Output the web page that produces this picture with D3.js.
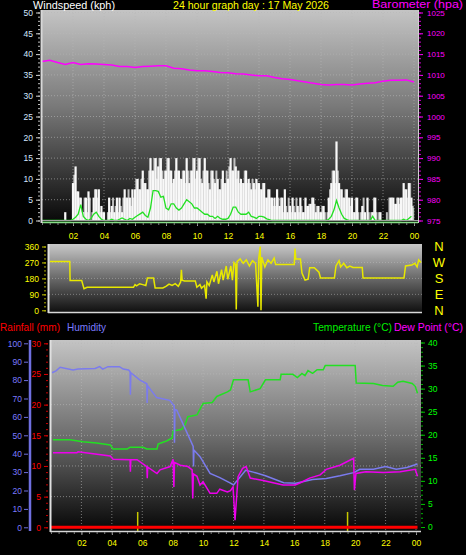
<!DOCTYPE html>
<html><head><meta charset="utf-8">
<script src="https://cdn.jsdelivr.net/npm/d3@7/dist/d3.min.js"></script>
<style>
body{margin:0;background:#000;}
svg{display:block;font-family:"Liberation Sans",Arial,sans-serif;}
</style></head>
<body><svg id="c" width="466" height="555"></svg>
<script>
// ---------------- DATA ----------------
const hourTicks = [2,4,6,8,10,12,14,16,18,20,22,24];
const hourLabels = ["02","04","06","08","10","12","14","16","18","20","22","00"];
const windTicks = [0,5,10,15,20,25,30,35,40,45,50];
const baroTicks = [975,980,985,990,995,1000,1005,1010,1015,1020,1025];
const dirTicks = [0,90,180,270,360];
const compass = ["N","E","S","W","N"];
const humTicks = [0,10,20,30,40,50,60,70,80,90,100];
const rainTicks = [0,5,10,15,20,25,30];
const tempTicks = [0,5,10,15,20,25,30,35,40];

// wind gusts (kph), every 10 minutes from 00:00
const gust = [
 0,0,0,0,0,0,  0,0,0,2,0,0,  9,13,7,5.5,2,5.5,  7,0,5.5,7.5,7.5,3.5,
 2,0,5.5,3.5,2,5.5,  5.5,2,7.5,5.5,5.5,7.5,  7.5,10,7.5,12,9,7.5,  15,12,15,13,15,10,
 12,15,12,10,15,12,  10,12,15,9,12,15,  12,15,9,15,12,7.5,  12,9,10,7.5,12,9,
 10,15,12,13,12,10,  9,12,10,7.5,9,10,  9,7.5,9,5.5,7.5,5.5,  5.5,7.5,3.5,5.5,7.5,2,
 3.5,5.5,2,3.5,5.5,2,  5.5,3.5,4,5.5,2,3.5,  2,3.5,0,5.5,9,12,  19,9,7.5,5.5,7.5,5.5,
 5.5,2,5.5,0,3.5,2,  5.5,0,2,5.5,0,2,  0,0,0,5.5,5.5,4,  5.5,5.5,9,7.5,9,5.5];
// secondary (lighter) gust readings, offset 5 minutes
const gust2 = [
 0,0,0,0,0,0,  0,0,0,0,0,0,  11,7,5.5,2,5.5,2,  5.5,2,7.5,5.5,2,2,
 0,2,2,5.5,3.5,2,  3.5,5.5,5.5,7.5,3.5,5.5,  10,7.5,10,9,7.5,12,  12,15,10,15,12,12,
 15,12,9,12,12,10,  12,9,12,12,15,10,  15,10,12,12,9,12,  10,12,7.5,10,9,12,
 13,12,15,10,9,9,  12,9,9,10,7.5,9,  7.5,9,5.5,7.5,5.5,3.5,  3.5,5.5,5.5,2,3.5,5.5,
 2,3.5,5.5,2,3.5,2,  3.5,4,5.5,4,3.5,2,  3.5,2,2,7.5,12,9,  12,7.5,5.5,7.5,5.5,3.5,
 2,5.5,2,2,5.5,0,  2,2,5.5,2,2,0,  0,2,5.5,5.5,4,5.5,  4,5.5,7.5,5.5,9,3.5];
// wind speed (kph), every 10 minutes
const windSpeed = [
 0,0,0,0,0,0,  0,0,0,0,0,0,  0,2,3.5,2,0,0,  0,0,2,2,0,0,
 0,0,0,0,0,0,  0,0,0,0,0,0,  0,2,0,2,0,0,  5,5,5,5,5,5,
 2,3.5,0,2,0,3.5,  2,5,5,3.5,2,0,  2,0,2,0,0,0,  0,2,0,0,0,0,
 0,3.5,3.5,2,0,0,  0,0,0,0,0,0,  0,0,0,0,0,0,  0,0,0,0,0,0,
 0,0,0,0,0,0,  0,0,0,0,0,0,  0,0,0,0,0,3,  4,2,0,0,0,0,
 0,0,0,0,0,0,  0,0,2,0,0,0,  0,0,0,0,0,0,  0,0,0,0,2,3];
// average wind speed (kph), every 10 minutes
const windAvg = [
 0,0,0,0,0,0,  0,0,0,0,0,0,  0.3,0.8,1.5,3.8,1,0.3,  0,0.5,1.5,2,1,0.3,
 0,0,0,0.3,0,0,  0.3,0.6,0.3,0,0.5,0.3,  0.8,1.2,1.6,2,1.2,0.8,  3,7.2,7.2,7,5.6,5.8,
 3,2.6,4,4,3,2.5,  3,4,5,4.5,4,3,  3,2.5,2,1.5,1.5,1,  1,0.5,1,0.5,0.3,0.3,
 0.5,1.5,3.2,3.2,2,1.5,  1.5,1.5,2,1,0.8,0.5,  1,1,0.8,0.4,0.2,0,  0,0,0,0,0,0,
 0,0,0,0,0,0,  0,0,0,0,0,0,  0,0,0,0.3,1,2.5,  4.8,3,1.5,0.5,0.2,0,
 0,0,0,0,0,0,  0,0,1,0,0,0,  0,0,0,0,0,0,  0,0,0.3,0,0.5,1];
// barometer (hPa), every 30 minutes
const baro = [1013.2,1013.5,1013.0,1012.5,1013.0,1012.5,1012.7,1012.6,1012.5,1012.4,
 1012.0,1012.0,1011.8,1012.0,1012.1,1012.2,1012.2,1011.6,1011.5,1011.2,
 1011.0,1011.0,1010.8,1010.6,1010.5,1010.3,1010.2,1010.0,1009.8,1009.8,
 1009.4,1009.1,1008.9,1008.6,1008.3,1008.0,1007.7,1007.6,1007.7,1007.7,
 1007.6,1007.8,1008.0,1008.1,1008.5,1008.7,1008.7,1008.8,1008.3];

// wind direction (degrees)
const dirHours = [0,1.28,1.3,2.05,2.2,2.4,5.4,5.5,5.6,5.8,6.0,6.2,6.3,6.7,6.8,7.3,7.5,7.7,7.9,8.1,8.3,8.45,8.5,8.55,8.7,9.4,9.5,9.7,9.8,10.0,10.1,10.15,10.3,10.5,10.6,10.8,10.9,11.1,11.2,11.4,11.5,11.7,11.8,11.9,12.0,12.05,12.1,12.3,12.5,12.7,12.9,13.1,13.3,13.45,13.5,13.6,13.65,13.7,13.9,14.1,14.3,14.5,14.6,15.8,15.85,15.9,16.2,16.3,16.5,16.7,16.8,17.1,17.4,17.5,18.4,18.5,18.7,18.8,19.0,19.2,19.4,19.6,20.2,20.25,22.9,23.0,23.4,23.6,23.75,23.85,24.0];
const dirDeg = [275,275,168,168,122,130,130,145,138,150,145,140,182,182,126,126,135,148,140,150,135,160,228,170,165,165,130,145,125,140,65,160,140,200,160,220,150,230,170,250,175,250,170,270,260,5,275,290,265,285,250,280,265,20,290,360,0,300,245,285,265,295,258,258,348,290,290,210,170,175,240,240,215,182,182,250,280,245,265,240,250,242,242,182,182,250,255,265,245,285,270];

// humidity (%)
const humHours = [0.07,0.33,0.6,1.45,1.78,2.9,3.2,3.4,3.75,4.5,4.75,5.1,5.2,5.22,5.25,5.85,6.3,6.32,6.35,6.95,7.8,8.1,8.12,8.15,8.27,9.35,9.37,9.4,9.8,10.46,11.1,11.8,12.0,12.8,13.3,14.1,15.3,16.1,17.2,18.1,19.0,19.9,20.3,21.2,22.0,22.7,23.4,24.1];
const humVals = [84,85,87,85.5,86,86.3,87.3,86,87.3,87.3,86,85.5,84.6,72,84,80,78,67.5,77,70.5,69,66,46,64,63.7,44,33,42,38.4,29.3,27,24,23,31,30,28,24.2,24,26,26.5,28,29.7,31.5,31.5,33,31.5,32.5,34.4];
// temperature (°C)
const tempHours = [0.13,1.25,2.1,3.0,3.9,4.08,5.0,5.2,6.05,6.3,6.97,7.04,7.63,7.96,8.03,8.6,8.8,9.0,9.6,10.0,10.6,10.9,11.6,11.8,12.0,12.96,13.1,13.75,14.1,15.07,15.13,15.9,16.2,16.5,16.7,16.9,17.2,17.5,17.9,18.03,20.0,20.07,21.2,21.8,22.5,22.8,23.15,23.75,23.95,24.1];
const tempVals = [18.9,18.9,18.5,18.2,17.8,16.9,16.9,17.3,17.3,16.9,16.9,18,18.7,19.3,20.8,21.2,22.1,23.9,24.3,26.8,27,28.3,29.3,29.7,31.9,31.9,29.3,30,31.9,31.9,33.1,33.1,32.4,33.3,32.8,33.9,33.3,34.1,34.1,35,35,31.2,31.1,30.7,30.5,31.4,31.6,31.1,30.5,29];
// dew point (°C)
const dewHours = [0.13,1.7,1.78,3.9,4.08,5.2,5.22,5.25,5.66,6.3,6.33,6.36,6.97,7.17,7.83,8.03,8.08,8.12,8.5,9.0,9.28,9.32,9.36,9.6,9.8,10.0,10.46,10.9,11.1,11.6,11.8,11.97,12.1,12.3,12.6,12.83,13.1,13.95,14.6,15.26,16.05,16.4,17.0,17.7,18.1,19.0,19.9,19.95,20.05,20.7,21.85,22.96,23.95,24.1];
const dewVals = [16.1,16.1,16.3,15.4,14.7,14.6,12,14.6,14.6,13.1,10.6,13,11.6,12.4,13.1,14.7,8.7,14,13.4,13.1,12.4,6.2,11.5,11,9.1,9.8,7.3,7.3,8.2,7.6,7.9,8.7,1.5,10.9,12.7,13.1,10.6,10.1,9.6,9.1,9.1,9.6,10.6,11.3,12.5,13.4,14.9,8,11.6,12,11.8,12,12.5,11];
// rainfall (mm) and rain events
const rainHours = [0,24.1];
const rainVals = [0,0];
const rainEventHours = [5.7,19.5];
const rainEventVals = [2.5,2.5];

// ---------------- DRAWING ----------------
const svg = d3.select("#c");
svg.append("rect").attr("width",466).attr("height",555).attr("fill","#000");
const defs = svg.append("defs");
function vgrad(id, stops){
  const g = defs.append("linearGradient").attr("id",id).attr("x1",0).attr("y1",0).attr("x2",0).attr("y2",1);
  stops.forEach(([o,c])=>g.append("stop").attr("offset",o).attr("stop-color",c));
}
vgrad("gTop",[[0,"#c4c4c4"],[0.45,"#7a7a7a"],[1,"#080808"]]);
vgrad("gMid",[[0,"#c8c8c8"],[0.5,"#6a6a6a"],[1,"#101010"]]);
vgrad("gBot",[[0,"#c4c4c4"],[0.5,"#6e6e6e"],[1,"#060606"]]);

function styleAxis(g, textColor, tickColor, fs){
  g.select(".domain").remove();
  g.selectAll("text").attr("fill",textColor).style("font-size",(fs||8.5)+"px").style("font-family","'Liberation Sans',Arial,sans-serif");
  g.selectAll("line").attr("stroke",tickColor);
}
function minor(g, axisFn, vals, color){
  const m = g.append("g").call(axisFn.tickValues(vals).tickSize(2).tickFormat(""));
  m.select(".domain").remove(); m.selectAll("line").attr("stroke",color);
}

// ===== TOP PANEL =====
const xT = d3.scaleLinear().domain([0,24]).range([42,414]);
const yW = d3.scaleLinear().domain([0,50]).range([220.5,12.5]);
const yB = d3.scaleLinear().domain([975,1025]).range([220.5,12.5]);
const pTop = svg.append("g");
pTop.append("rect").attr("x",42).attr("y",10).attr("width",376).attr("height",212).attr("fill","url(#gTop)");
pTop.selectAll(".vg").data(hourTicks).join("line").attr("x1",d=>xT(d)).attr("x2",d=>xT(d)).attr("y1",10).attr("y2",222)
  .attr("stroke","#b8b8b8").attr("stroke-dasharray","1,2").attr("stroke-opacity",0.6);
pTop.selectAll(".hg").data(windTicks.slice(1)).join("line").attr("x1",42).attr("x2",418).attr("y1",d=>yW(d)).attr("y2",d=>yW(d))
  .attr("stroke","#b8b8b8").attr("stroke-dasharray","1,2").attr("stroke-opacity",0.6);
const step = 24/144;
pTop.selectAll(".ws").data(windSpeed).join("rect")
  .attr("x",(d,i)=>xT(i*step)).attr("width",xT(step)-xT(0)+0.2)
  .attr("y",d=>yW(d)).attr("height",d=>yW(0)-yW(d)).attr("fill","#c8f5c8").attr("opacity",0.75);
pTop.selectAll(".g2").data(gust2).join("rect")
  .attr("x",(d,i)=>xT(i*step+step/2)-1).attr("width",2)
  .attr("y",d=>yW(d)).attr("height",d=>yW(0)-yW(d)).attr("fill","#cfcfcf").attr("opacity",0.9);
pTop.selectAll(".g1").data(gust).join("rect")
  .attr("x",(d,i)=>xT(i*step)-1.1).attr("width",2.2)
  .attr("y",d=>yW(d)).attr("height",d=>yW(0)-yW(d)).attr("fill","#f8f8f8");
pTop.append("path").datum(windAvg).attr("fill","none").attr("stroke","#22e022").attr("stroke-width",1.3)
  .attr("d",d3.line().x((d,i)=>xT(i*step)).y(d=>yW(d)));
pTop.append("path").datum(baro).attr("fill","none").attr("stroke","#ff00ff").attr("stroke-width",1.5)
  .attr("d",d3.line().x((d,i)=>xT(i*0.5)).y(d=>yB(d)));
pTop.append("line").attr("x1",42).attr("x2",418).attr("y1",220.5).attr("y2",220.5).attr("stroke","#a0a0a0").attr("stroke-width",1);
pTop.append("line").attr("x1",42).attr("x2",418).attr("y1",222.5).attr("y2",222.5).attr("stroke","#88dd88").attr("stroke-width",1.5);
pTop.append("line").attr("x1",41.5).attr("x2",41.5).attr("y1",10).attr("y2",223).attr("stroke","#d8d8d8").attr("stroke-width",2);
pTop.append("line").attr("x1",418.5).attr("x2",418.5).attr("y1",10).attr("y2",223).attr("stroke","#d0d0d0").attr("stroke-width",1);
const tl = pTop.append("g").attr("transform","translate(40,0)");
tl.call(d3.axisLeft(yW).tickValues(windTicks).tickSize(4).tickPadding(3));
styleAxis(tl,"#d4e6ff","#d0d0d0");
minor(tl, d3.axisLeft(yW), d3.range(0,51), "#c0c0c0");
const tr = pTop.append("g").attr("transform","translate(419,0)");
tr.call(d3.axisRight(yB).tickValues(baroTicks).tickSize(4).tickPadding(4).tickFormat(d3.format("d")));
styleAxis(tr,"#ff00ff","#ff00ff",8);
minor(tr, d3.axisRight(yB), d3.range(975,1026), "#d000d0");
const tb = pTop.append("g").attr("transform","translate(0,223)");
tb.call(d3.axisBottom(xT).tickValues(hourTicks).tickSize(3).tickPadding(7).tickFormat((d,i)=>hourLabels[i]));
styleAxis(tb,"#ffff00","#a0a0a0");
minor(tb, d3.axisBottom(xT), d3.range(0,24.01,0.5), "#808080");

// ===== MIDDLE PANEL =====
const xM = d3.scaleLinear().domain([0,24]).range([50,421]);
const yD = d3.scaleLinear().domain([0,360]).range([310.3,246.5]);
const pMid = svg.append("g");
pMid.append("rect").attr("x",49).attr("y",244).attr("width",373).attr("height",68).attr("fill","url(#gMid)");
pMid.selectAll(".hg").data([90,180,270]).join("line").attr("x1",49).attr("x2",422).attr("y1",d=>yD(d)).attr("y2",d=>yD(d))
  .attr("stroke","#c0c0c0").attr("stroke-dasharray","1,2").attr("stroke-opacity",0.5);
pMid.append("path").datum(dirHours).attr("fill","none").attr("stroke","#e8e800").attr("stroke-width",1.5)
  .attr("d",d3.line().x(d=>xM(d)).y((d,i)=>yD(dirDeg[i])));
pMid.append("line").attr("x1",48.5).attr("x2",48.5).attr("y1",244).attr("y2",313).attr("stroke","#e0e0e0").attr("stroke-width",2);
pMid.append("line").attr("x1",48).attr("x2",422).attr("y1",312.5).attr("y2",312.5).attr("stroke","#d8d8d8").attr("stroke-width",1.5);
const ml = pMid.append("g").attr("transform","translate(46,0)");
ml.call(d3.axisLeft(yD).tickValues(dirTicks).tickSize(4).tickPadding(3));
styleAxis(ml,"#ffff00","#c8c800");
minor(ml, d3.axisLeft(yD), d3.range(0,361,22.5), "#b0b000");
pMid.selectAll(".cp").data(compass).join("text").attr("x",439).attr("y",(d,i)=>yD(i*90)+4.5)
  .attr("text-anchor","middle").attr("fill","#ffff00").style("font-size","13px").text(d=>d);

// ===== BOTTOM PANEL =====
const xB = d3.scaleLinear().domain([0,24]).range([51,416]);
const yH = d3.scaleLinear().domain([0,100]).range([527.3,343.3]);
const yR = d3.scaleLinear().domain([0,30]).range([527.3,343.3]);
const yT = d3.scaleLinear().domain([0,40]).range([527,342.5]);
const pBot = svg.append("g");
pBot.append("rect").attr("x",51).attr("y",340).attr("width",370).attr("height",191).attr("fill","url(#gBot)");
pBot.selectAll(".vg").data(hourTicks).join("line").attr("x1",d=>xB(d)).attr("x2",d=>xB(d)).attr("y1",340).attr("y2",531)
  .attr("stroke","#b8b8b8").attr("stroke-dasharray","1,2").attr("stroke-opacity",0.6);
pBot.selectAll(".hg").data(rainTicks.slice(1)).join("line").attr("x1",51).attr("x2",421).attr("y1",d=>yR(d)).attr("y2",d=>yR(d))
  .attr("stroke","#b8b8b8").attr("stroke-dasharray","1,2").attr("stroke-opacity",0.6);
pBot.selectAll(".re").data(rainEventHours).join("line").attr("x1",d=>xB(d)).attr("x2",d=>xB(d))
  .attr("y1",(d,i)=>yR(rainEventVals[i])).attr("y2",531).attr("stroke","#c8c800").attr("stroke-width",1.5);
pBot.append("path").datum(rainHours).attr("fill","none").attr("stroke","#ff0000").attr("stroke-width",3)
  .attr("d",d3.line().x(d=>xB(d)).y((d,i)=>yR(rainVals[i])));
pBot.append("path").datum(tempHours).attr("fill","none").attr("stroke","#22e022").attr("stroke-width",1.5)
  .attr("d",d3.line().x(d=>xB(d)).y((d,i)=>yT(tempVals[i])));
pBot.append("path").datum(humHours).attr("fill","none").attr("stroke","#7b7bee").attr("stroke-width",1.5)
  .attr("d",d3.line().x(d=>xB(d)).y((d,i)=>yH(humVals[i])));
pBot.append("path").datum(dewHours).attr("fill","none").attr("stroke","#ee00ee").attr("stroke-width",1.5)
  .attr("d",d3.line().x(d=>xB(d)).y((d,i)=>yT(dewVals[i])));
pBot.append("line").attr("x1",50.5).attr("x2",50.5).attr("y1",340).attr("y2",532).attr("stroke","#e0e0e0").attr("stroke-width",2);
pBot.append("line").attr("x1",50).attr("x2",421).attr("y1",531.5).attr("y2",531.5).attr("stroke","#d8d8d8").attr("stroke-width",1.5);
pBot.append("line").attr("x1",30).attr("x2",30).attr("y1",340).attr("y2",531).attr("stroke","#7070e0").attr("stroke-width",2.5);
const hl = pBot.append("g").attr("transform","translate(28,0)");
hl.call(d3.axisLeft(yH).tickValues(humTicks).tickSize(4).tickPadding(2));
styleAxis(hl,"#7b7bff","#7070e0");
const rl = pBot.append("g").attr("transform","translate(48,0)");
rl.call(d3.axisLeft(yR).tickValues(rainTicks).tickSize(4).tickPadding(3));
styleAxis(rl,"#ff0000","#dd0000");
minor(rl, d3.axisLeft(yR), d3.range(0,31), "#cc0000");
const trr = pBot.append("g").attr("transform","translate(421,0)");
trr.call(d3.axisRight(yT).tickValues(tempTicks).tickSize(4).tickPadding(3));
styleAxis(trr,"#00ff00","#00c000");
minor(trr, d3.axisRight(yT), d3.range(0,41), "#00b000");
const bb = pBot.append("g").attr("transform","translate(0,532)");
bb.call(d3.axisBottom(xB).tickValues(hourTicks).tickSize(3).tickPadding(5).tickFormat((d,i)=>hourLabels[i]));
styleAxis(bb,"#ffff00","#a0a0a0");
minor(bb, d3.axisBottom(xB), d3.range(0,24.01,0.5), "#808080");

// ===== TITLES =====
const title = (x,y,txt,col,w,fs)=>svg.append("text").attr("x",x).attr("y",y).attr("fill",col)
  .attr("textLength",w).attr("lengthAdjust","spacingAndGlyphs").style("font-size",(fs||11)+"px").text(txt);
title(33,9,"Windspeed (kph)","#ffffff",82);
title(173,9,"24 hour graph day : 17 May 2026","#ffff00",156);
title(372,7.5,"Barometer (hpa)","#ff00ff",91,10);
title(0,331,"Rainfall (mm)","#ff0000",60);
title(67,331,"Humidity","#7b7bff",39);
title(313,331,"Temperature (°C)","#00ee00",79);
title(394,331,"Dew Point (°C)","#ff00ff",69);
</script></body></html>
